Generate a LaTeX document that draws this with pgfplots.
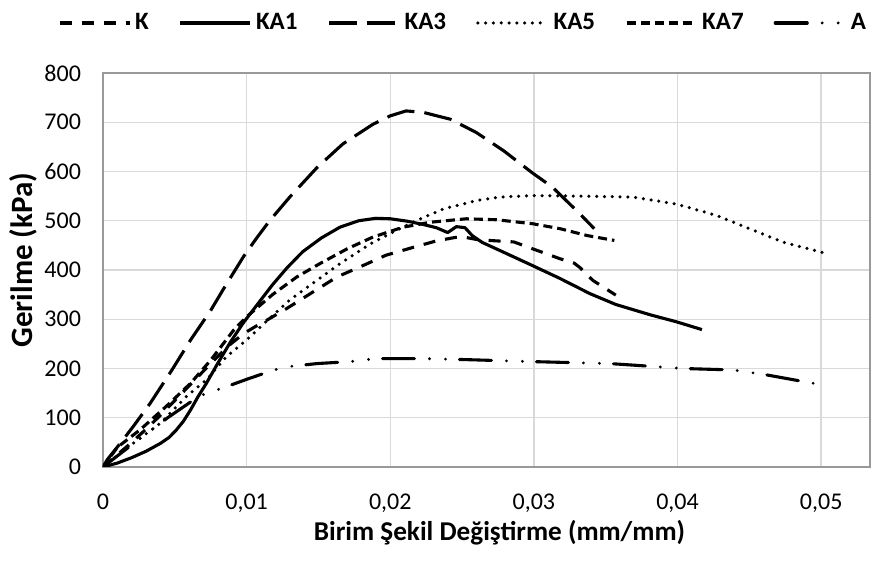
\documentclass[border=0pt]{standalone}
\usepackage{fontspec}
\setmainfont{Carlito}
\usepackage{pgfplots}
\pgfplotsset{compat=1.18}
\begin{document}
\begin{tikzpicture}
\path[use as bounding box] (0,0) rectangle (442pt,281pt);
\begin{axis}[
 at={(51.5pt,47.5pt)}, anchor=south west, scale only axis,
 width=383.5pt, height=197pt,
 xmin=0, xmax=0.0534, ymin=0, ymax=800,
 xtick={0,0.01,0.02,0.03,0.04,0.05},
 xticklabels={0,{0,01},{0,02},{0,03},{0,04},{0,05}},
 ytick={0,100,...,800},
 scaled x ticks=false,
 /pgf/number format/assume math mode=true,
 tick label style={font=\fontsize{12}{14}\selectfont},
 yticklabel style={xshift=-7.5pt},
 xticklabel style={yshift=-10pt},
 major tick length=0pt,
 grid=major, major grid style={draw=black!15, line width=0.7pt},
 axis line style={draw=black!40, line width=0.8pt},
 xlabel={Birim Şekil Değiştirme (mm/mm)},
 ylabel={Gerilme (kPa)},
 xlabel style={font=\bfseries\fontsize{13.6}{16}\selectfont, at={(axis description cs:0.517,-0.168)}, anchor=center},
 ylabel style={font=\bfseries\fontsize{15.5}{18}\selectfont, at={(axis description cs:-0.1043,0.525)}, anchor=center},
 legend style={at={(axis description cs:0.4707,1.127)}, anchor=center, draw=none, fill=none,
   font=\bfseries\fontsize{12.5}{14}\selectfont, legend columns=6,
   /tikz/every even column/.append style={column sep=13pt}},
 legend image code/.code={\draw[#1] (0pt,0pt) -- (35pt,0pt);},
 every axis plot/.append style={line width=1.55pt, black, line join=round},
]
% K
\addplot[dash pattern=on 6pt off 5pt] coordinates {
(0,0) (0.001,25) (0.002,50) (0.003,77) (0.004,105) (0.005,135) (0.006,165) (0.007,195)
(0.008,225) (0.0089,250) (0.0098,271) (0.0106,285) (0.0114,298)
(0.0128,322) (0.0146,355) (0.0163,386) (0.0181,409) (0.0197,430) (0.0216,446)
(0.0232,459) (0.0245,466) (0.0251,467) (0.0260,462) (0.0269,460) (0.0286,457)
(0.0302,440) (0.0318,423) (0.0328,414) (0.0332,405) (0.0341,379) (0.0357,349)};
\addlegendentry{K}
% KA1
\addplot[solid] coordinates {
(0,0) (0.001,8) (0.002,19) (0.003,32) (0.004,48) (0.0046,60) (0.0051,75) (0.0056,93)
(0.0061,116) (0.0066,142) (0.0072,170) (0.0080,211) (0.0089,255) (0.0098,294)
(0.0108,332) (0.0118,370)
(0.0128,404) (0.0139,437) (0.0152,465) (0.0165,487) (0.0178,500) (0.0190,505)
(0.0200,504) (0.0212,499) (0.0222,493) (0.0232,486) (0.0240,476) (0.0246,488)
(0.0252,486) (0.0257,470) (0.0264,456) (0.0276,440) (0.0299,409) (0.0318,383)
(0.0339,352) (0.0357,330) (0.0381,309) (0.0399,295) (0.0417,279)};
\addlegendentry{KA1}
% KA3
\addplot[dash pattern=on 14pt off 5pt] coordinates {
(0,0) (0.0003,15) (0.0012,48) (0.0021,82) (0.0033,130) (0.0048,197) (0.0061,258)
(0.0075,318) (0.0084,362) (0.0098,428) (0.0107,465) (0.0116,500) (0.0130,548) (0.0149,608)
(0.0167,656) (0.0188,696) (0.0200,713) (0.0211,723) (0.0223,720) (0.0242,706)
(0.0260,679) (0.0279,642) (0.0299,597) (0.0313,568) (0.0332,514) (0.0342,484)};
\addlegendentry{KA3}
% KA5
\addplot[line width=1.75pt, line cap=round, dash pattern=on 0pt off 3.9pt] coordinates {
(0,0) (0.0012,28) (0.0021,48) (0.0040,89) (0.0058,143) (0.0072,177) (0.0086,224)
(0.0100,258) (0.0112,291) (0.0130,339) (0.0149,379) (0.0165,413) (0.0186,453)
(0.0204,480) (0.0218,500) (0.0237,524) (0.0260,541) (0.0276,548) (0.0299,551)
(0.0334,550) (0.0369,548) (0.0399,534) (0.0427,511) (0.0450,484) (0.0473,457)
(0.0504,433)};
\addlegendentry{KA5}
% KA7
\addplot[dash pattern=on 4.5pt off 2.5pt] coordinates {
(0,0) (0.0010,40) (0.0026,76) (0.0044,123) (0.0061,170) (0.0075,217) (0.0091,278)
(0.0100,305) (0.0118,350) (0.0135,386) (0.0151,413) (0.0170,443) (0.0188,467)
(0.0209,487) (0.0228,497) (0.0253,504) (0.0274,502) (0.0299,494) (0.0318,484)
(0.0337,470) (0.0356,460)};
\addlegendentry{KA7}
% A
\addplot[line cap=round, dash pattern=on 16pt off 7.5pt on 0pt off 8pt on 0pt off 7pt] coordinates {
(0,0) (0.0020,45) (0.0045,100) (0.0065,140) (0.0072,150) (0.0083,160) (0.0100,178)
(0.0109,187) (0.0119,197) (0.0130,204) (0.0149,210) (0.0172,214) (0.0190,220)
(0.0223,220) (0.0253,218) (0.0299,214) (0.0353,210) (0.0404,200) (0.0439,197)
(0.0462,187) (0.0500,167)};
\addlegendentry{A}
\end{axis}
\end{tikzpicture}
\end{document}
